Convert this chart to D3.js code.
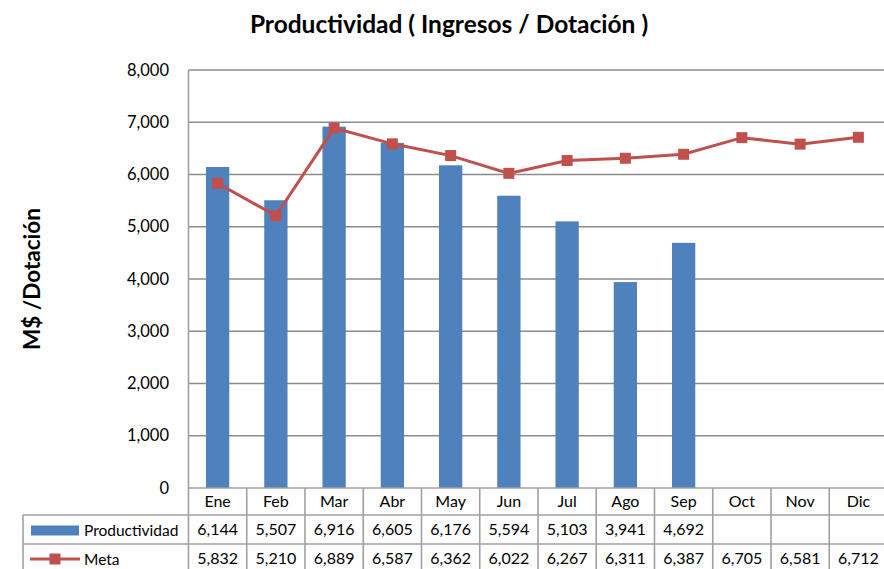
<!DOCTYPE html>
<html lang="es">
<head>
<meta charset="utf-8">
<script src="https://d3js.org/d3.v7.min.js"></script>
<style>
  body { margin: 0; background: #fff; }
  svg { font-family: Lato, "Open Sans", sans-serif; display: block; }
  .grid line { stroke: #8c8c8c; stroke-width: 1.3px; }
  .tbl line { stroke: #a0a0a0; stroke-width: 1.6px; }
</style>
</head>
<body>
<svg width="884" height="569"></svg>
<script>
// datos
const months = ["Ene","Feb","Mar","Abr","May","Jun","Jul","Ago","Sep","Oct","Nov","Dic"];
const productividad = [6144, 5507, 6916, 6605, 6176, 5594, 5103, 3941, 4692, null, null, null];
const meta = [5832, 5210, 6889, 6587, 6362, 6022, 6267, 6311, 6387, 6705, 6581, 6712];
const yTicks = [0, 1000, 2000, 3000, 4000, 5000, 6000, 7000, 8000];

const blue = "#4f81bd", red = "#c0504d";

const svg = d3.select("svg");
const plotL = 188.5, plotR = plotL + 12 * 58.25, plotT = 70, plotB = 488;

const x = d3.scaleBand().domain(months).range([plotL, plotR]).paddingInner(0.6).paddingOuter(0.3);
const xc = d => x(d) + x.bandwidth() / 2;
const y = d3.scaleLinear().domain([0, 8000]).range([plotB, plotT]);
const fmt = d3.format(",");

// title
svg.append("text").attr("x", 449).attr("y", 33).attr("text-anchor", "middle")
  .style("font-size", "24.5px").style("font-weight", "bold").text("Productividad ( Ingresos / Dotación )");

// y label
svg.append("text").attr("transform", "translate(40,279) rotate(-90)").attr("text-anchor", "middle")
  .style("font-size", "22.5px").style("font-weight", "bold").text("M$ /Dotación");

// grid
svg.append("g").attr("class", "grid").selectAll("line").data(yTicks.filter(d => d > 0)).join("line")
  .attr("x1", plotL).attr("x2", plotR).attr("y1", d => y(d)).attr("y2", d => y(d));

// y tick labels
svg.append("g").selectAll("text").data(yTicks).join("text")
  .attr("x", 169).attr("y", d => y(d) + 5.5).attr("text-anchor", "end")
  .style("font-size", "16.5px").text(d => fmt(d));

// bars
svg.append("g").selectAll("rect").data(months.map((m, i) => ({m, v: productividad[i]})).filter(d => d.v != null))
  .join("rect")
  .attr("x", d => x(d.m)).attr("width", x.bandwidth())
  .attr("y", d => y(d.v)).attr("height", d => y(0) - y(d.v))
  .attr("fill", blue);

// line
const pts = months.map((m, i) => ({m, v: meta[i]}));
svg.append("path").datum(pts)
  .attr("d", d3.line().x(d => xc(d.m)).y(d => y(d.v)))
  .attr("fill", "none").attr("stroke", red).attr("stroke-width", 3);
svg.append("g").selectAll("rect").data(pts).join("rect")
  .attr("x", d => xc(d.m) - 5.5).attr("y", d => y(d.v) - 5.5)
  .attr("width", 11).attr("height", 11).attr("fill", red);

// data table
const rowY = [488, 515, 544, 573];
const tbl = svg.append("g").attr("class", "tbl");
tbl.append("line").attr("x1", plotL).attr("x2", plotR).attr("y1", rowY[0]).attr("y2", rowY[0]);
tbl.selectAll(".h").data(rowY.slice(1)).join("line")
  .attr("x1", 23).attr("x2", plotR).attr("y1", d => d).attr("y2", d => d);
const vx = d3.range(13).map(i => plotL + i * 58.25);
tbl.selectAll(".v").data(vx).join("line")
  .attr("x1", d => d).attr("x2", d => d).attr("y1", (d, i) => i === 0 ? plotT : rowY[0]).attr("y2", rowY[3]);
tbl.append("line").attr("x1", 23).attr("x2", 23).attr("y1", rowY[1]).attr("y2", rowY[3]);

const cellText = (row, vals) => svg.append("g").selectAll("text").data(months.map((m, i) => ({m, v: vals[i]})))
  .join("text").attr("x", d => xc(d.m)).attr("y", (rowY[row] + rowY[row + 1]) / 2 + 5.5)
  .attr("text-anchor", "middle").style("font-size", "16px")
  .text(d => typeof d.v === "number" ? fmt(d.v) : (d.v || ""));
cellText(0, months);
cellText(1, productividad);
cellText(2, meta);

// legend keys
svg.append("rect").attr("x", 31).attr("y", 525.5).attr("width", 48).attr("height", 10).attr("fill", blue);
svg.append("text").attr("x", 84).attr("y", 535.5).style("font-size", "15.5px").text("Productividad");
svg.append("line").attr("x1", 30).attr("x2", 80).attr("y1", 559).attr("y2", 559).attr("stroke", red).attr("stroke-width", 3);
svg.append("rect").attr("x", 49.5).attr("y", 553.5).attr("width", 11).attr("height", 11).attr("fill", red);
svg.append("text").attr("x", 84).attr("y", 564.5).style("font-size", "15.5px").text("Meta");
</script>
</body>
</html>
